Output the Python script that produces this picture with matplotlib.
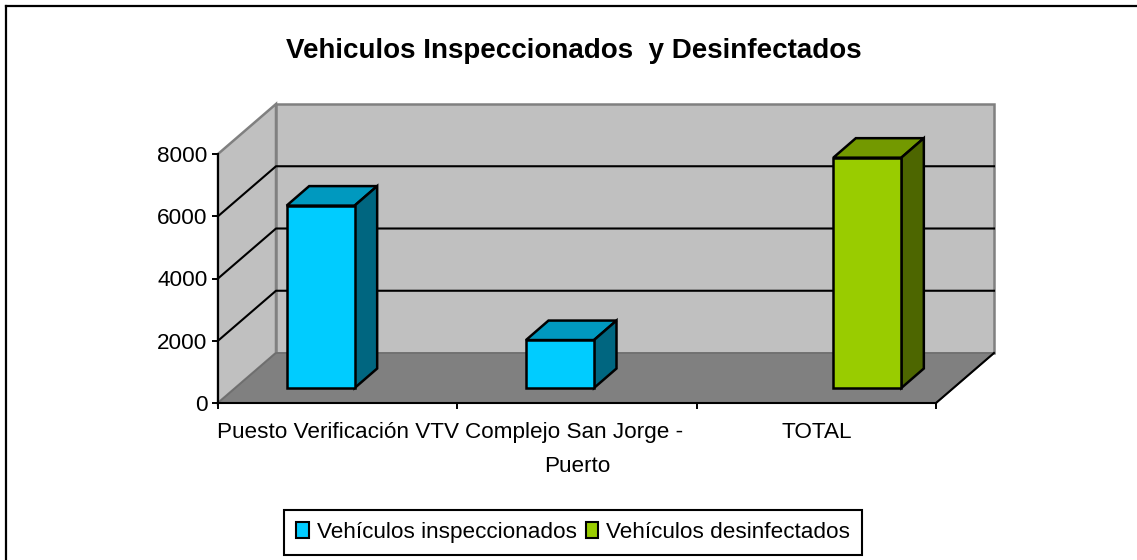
import matplotlib
matplotlib.use('Agg')
import matplotlib.pyplot as plt
from matplotlib.lines import Line2D
from matplotlib.patches import Patch

plt.rcParams['font.family'] = ['Liberation Sans', 'DejaVu Sans']

categorias = ['Puesto Verificación VTV', 'Complejo San Jorge - \nPuerto', 'TOTAL']
inspeccionados = [5860, 1540, 0]
desinfectados = [0, 0, 7400]
y_ticks = [0, 2000, 4000, 6000, 8000]
titulo = 'Vehiculos Inspeccionados  y Desinfectados'
nombres = ['Vehículos inspeccionados', 'Vehículos desinfectados']

W, H = 1137, 560
fig = plt.figure(figsize=(W / 100, H / 100), dpi=100, facecolor='white')
ax = fig.add_axes([218 / W, (H - 403) / H, (936 - 218) / W, (403 - 154) / H])
ax.set_xlim(-0.5, 2.5)
ax.set_ylim(0, 8000)
ax.patch.set_visible(False)

# pixeles a unidades de datos, para la profundidad 3D
px_x = 3 / (936 - 218)
px_y = 8000 / (403 - 154)
prof_x = 58 * px_x
prof_y = 50 * px_y


def poligono(xs, ys, color, edge, lw=1.0, z=1):
    ax.fill(xs, ys, facecolor=color, edgecolor=edge, lw=lw, zorder=z, clip_on=False)


x0, x1 = -0.5, 2.5
top = y_ticks[-1]
# paredes y piso
poligono([x0, x0, x0 + prof_x, x0 + prof_x], [0, top, top + prof_y, prof_y], '#C0C0C0', '#808080', 1.8)
poligono([x0 + prof_x, x1 + prof_x, x1 + prof_x, x0 + prof_x], [prof_y, prof_y, top + prof_y, top + prof_y], '#C0C0C0', '#808080', 1.8)
poligono([x0, x1, x1 + prof_x, x0 + prof_x], [0, 0, prof_y, prof_y], '#808080', '#6E6E6E', 1.2)

# grilla
for v in y_ticks[1:-1]:
    ax.plot([x0, x0 + prof_x, x1 + prof_x], [v, v + prof_y, v + prof_y], color='black', lw=1.5, zorder=2, clip_on=False)
ax.plot([x1, x1 + prof_x], [0, prof_y], color='black', lw=1.5, zorder=2, clip_on=False)

# barras
ancho = 68 * px_x
f_x = 17 * px_x  # frente de la barra dentro del piso
base = 15 * px_y
d_x = 22.5 * px_x
d_y = 19.5 * px_y
series = [(inspeccionados, -0.5, '#00CCFF', '#0099BF', '#006680'),
          (desinfectados, 0.5, '#99CC00', '#739900', '#4D6600')]
for vals, lado, c_frente, c_arriba, c_costado in series:
    for i, v in enumerate(vals):
        if v == 0:
            continue
        xa = i + lado * ancho + f_x - ancho / 2
        xb = xa + ancho
        yt = base + v
        poligono([xa, xa + d_x, xb + d_x, xb], [yt, yt + d_y, yt + d_y, yt], c_arriba, 'black', 1.8, 3)
        poligono([xb, xb + d_x, xb + d_x, xb], [base, base + d_y, yt + d_y, yt], c_costado, 'black', 1.8, 3)
        ax.bar(xa + ancho / 2, v, ancho, bottom=base, color=c_frente, edgecolor='black', lw=1.8, zorder=4, clip_on=False)

for s in ['top', 'right']:
    ax.spines[s].set_visible(False)
for s in ['left', 'bottom']:
    ax.spines[s].set_linewidth(1.5)
    ax.spines[s].set_zorder(5)

ax.set_yticks(y_ticks)
ax.set_yticklabels([str(v) for v in y_ticks])
ax.tick_params(axis='y', length=4, width=1.4, labelsize=16.2, pad=3.5)
ax.set_xticks([-0.5, 0.5, 1.5, 2.5])
ax.set_xticklabels([])
ax.tick_params(axis='x', which='major', length=4, width=1.4)
ax.set_xticks([0, 1, 2], labels=categorias, minor=True)
ax.tick_params(axis='x', which='minor', length=0, labelsize=16.2, pad=14)
for t in ax.get_xticklabels(minor=True):
    t.set_linespacing(1.76)
    t.set_verticalalignment('top')

fig.text(574 / W, (H - 51) / H, titulo, ha='center', va='center', fontsize=20, fontweight='bold')

handles = [Patch(facecolor='#00CCFF', edgecolor='black', lw=1.5),
           Patch(facecolor='#99CC00', edgecolor='black', lw=1.5)]
leg = fig.legend(handles, nombres, loc='center', bbox_to_anchor=(573 / W, (H - 532.4) / H), ncol=2,
                 fontsize=16.2, fancybox=False, edgecolor='black', framealpha=1,
                 handlelength=0.55, handleheight=0.65, handletextpad=0.35, columnspacing=0.4,
                 borderpad=0.53, borderaxespad=0)
leg.get_frame().set_linewidth(1.5)

# el marco solo se ve arriba y a la izquierda
fig.add_artist(Line2D([6 / W, 6 / W], [0, (H - 6) / H], color='black', lw=1.6, transform=fig.transFigure))
fig.add_artist(Line2D([6 / W, 1], [(H - 6) / H, (H - 6) / H], color='black', lw=1.6, transform=fig.transFigure))

fig.savefig('out.png', dpi=100)
